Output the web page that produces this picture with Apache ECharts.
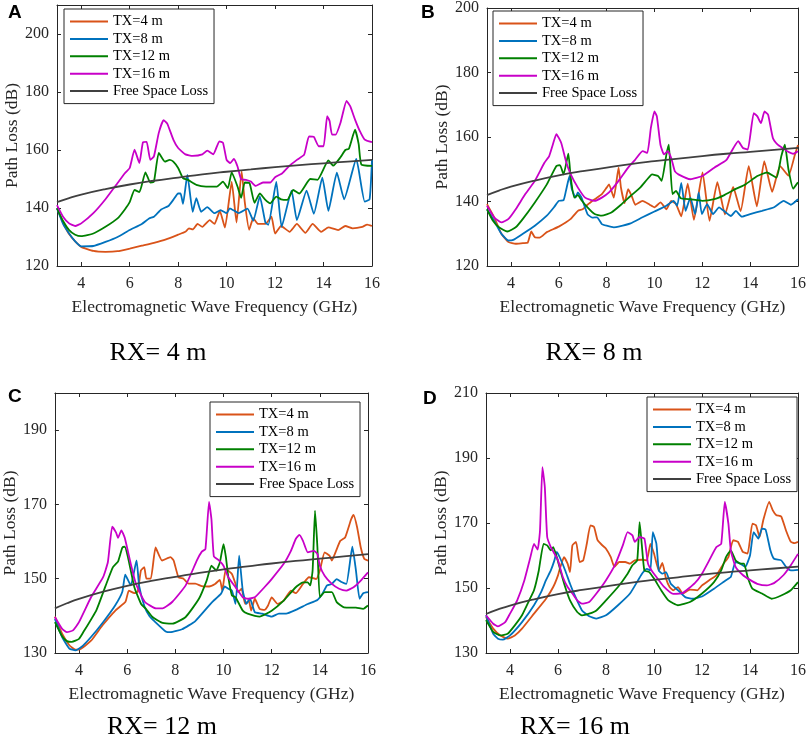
<!DOCTYPE html>
<html><head><meta charset="utf-8">
<script src="https://cdn.jsdelivr.net/npm/echarts@6/dist/echarts.min.js"></script>
<style>html,body{margin:0;padding:0;background:#fff}#c{width:809px;height:747px}</style>
</head><body><div id="c"></div>
<script>
// ---------- labels ----------
const seriesNames = ['TX=4 m','TX=8 m','TX=12 m','TX=16 m','Free Space Loss'];
const panelLetters = ['A','B','C','D'];
const rxLabels = ['RX= 4 m','RX= 8 m','RX= 12 m','RX= 16 m'];
const xTitle = 'Electromagnetic Wave Frequency (GHz)';
const yTitle = 'Path Loss (dB)';
const xTicks = [4,6,8,10,12,14,16];
const yTicksA = [120,140,160,180,200];
const yTicksB = [120,140,160,180,200];
const yTicksC = [130,150,170,190];
const yTicksD = [130,150,170,190,210];

// ---------- data: [frequency GHz, path loss dB] ----------
const freeSpace = [[3,142],[3.5,143.4],[4,144.6],[5,146.5],[6,148.1],[7,149.4],[8,150.5],[9,151.6],[10,152.5],[11,153.3],[12,154.1],[13,154.8],[14,155.4],[15,156],[16,156.6]];

// Panel A (RX = 4 m)
const a4 = [[3,140],[3.25,135],[3.5,131],[3.75,128.5],[4,126.6],[4.5,125.2],[5,124.9],[5.5,125.1],[6,126],[6.5,127],[7,128],[7.5,129.2],[8,130.8],[8.3,131.8],[8.45,133],[8.6,132.6],[8.8,134.5],[9,133.5],[9.3,135.8],[9.5,134.5],[9.72,139],[9.93,133.2],[10.21,149],[10.41,135],[10.62,152.6],[10.75,142],[10.93,132.5],[11.1,136.5],[11.3,134.5],[11.6,134.5],[11.85,137],[12,131.2],[12.25,133.8],[12.6,131.8],[12.9,134.5],[13.25,131.4],[13.55,134.5],[13.9,131.8],[14.2,133.3],[14.6,132.4],[14.9,133.8],[15.2,133],[15.6,133.5],[15.8,134.3],[16,133.8]];
const a8 = [[3,139.9],[3.25,134.5],[3.5,131.2],[3.75,128.5],[4,126.8],[4.5,126.9],[5,128.3],[5.5,130],[6,132.4],[6.5,134.5],[6.8,136.4],[7,137],[7.3,139.5],[7.6,140.7],[7.8,142.8],[8,145],[8.1,145],[8.2,141.4],[8.38,151.4],[8.6,138.7],[8.75,143.4],[8.95,138.7],[9.2,140.3],[9.5,138.2],[9.75,139.3],[10,138.2],[10.13,139.9],[10.5,138.2],[10.86,139.8],[11.1,135.6],[11.37,144],[11.6,135],[11.72,134.2],[12.05,149],[12.27,133.5],[12.68,146],[12.9,135.8],[13.3,146],[13.6,138],[13.95,150.5],[14.2,139],[14.55,152.2],[14.85,143],[15.35,156.9],[15.7,142.2],[15.9,143],[16,156.6]];
const a12 = [[3,139.9],[3.25,135.5],[3.5,132.4],[3.75,130.8],[4,130.3],[4.5,131.2],[5,133.5],[5.5,136.4],[5.8,139.5],[6,142],[6.2,146.2],[6.4,145.5],[6.65,152.3],[6.85,148.8],[7,149.1],[7.2,159],[7.45,156],[7.65,156.6],[7.8,156],[8,153.8],[8.2,150.3],[8.4,149.7],[8.75,148],[9.15,147.4],[9.6,147.4],[9.85,149.1],[10.05,146.8],[10.21,152.3],[10.45,147.4],[10.6,143.5],[10.75,148.8],[10.95,148.5],[11.15,141.8],[11.37,145],[11.58,143],[11.8,141.6],[12.05,143.9],[12.25,143],[12.5,142.8],[12.75,146.2],[13,145],[13.45,150],[13.75,149.7],[14.2,156.4],[14.4,154.6],[14.7,157.5],[14.9,160],[15.05,160.5],[15.3,167],[15.45,162],[15.56,155],[16,154.5]];
const a16 = [[3,141],[3.25,137],[3.5,134.7],[3.75,133.8],[4,134.7],[4.5,138.2],[5,143],[5.5,148.6],[5.8,152],[6,153.8],[6.2,160.1],[6.4,155.5],[6.55,162.7],[6.7,162.8],[6.85,156.6],[7,157.8],[7.2,165.9],[7.4,170.3],[7.55,169.1],[7.8,163.6],[8,160.7],[8.3,158.5],[8.6,158],[9,158.5],[9.2,159.8],[9.45,158.5],[9.7,163],[9.85,162.5],[10,156.6],[10.15,155.5],[10.3,156.9],[10.45,154.3],[10.6,149.9],[10.8,149.7],[11,149.1],[11.2,147.6],[11.5,148.8],[11.8,148.8],[12,150.6],[12.3,152],[12.6,154.6],[12.9,156.6],[13.2,158.4],[13.4,164.7],[13.6,164.5],[13.8,161.3],[14,161.3],[14.15,171.7],[14.25,170],[14.35,165.3],[14.5,165.3],[14.7,169.4],[14.95,176.9],[15.1,175.1],[15.3,170.5],[15.5,166.5],[15.7,163.6],[16,162.7]];

// Panel B (RX = 8 m)
const b4 = [[3,139.2],[3.3,135.1],[3.6,130],[3.9,127.4],[4.2,126.9],[4.5,127.1],[4.7,127.2],[4.85,130.7],[5,128.9],[5.2,128.8],[5.5,130.5],[6,132.2],[6.5,134.6],[6.8,137.1],[7,137.6],[7.2,139],[7.5,140.7],[7.8,142.3],[8,144.3],[8.1,145.3],[8.3,141.2],[8.5,150.5],[8.6,144.3],[8.75,139.5],[8.9,143.8],[9.05,141.7],[9.2,139],[9.5,140.2],[9.8,139],[10,138.2],[10.25,139.7],[10.5,137.6],[10.7,140.2],[10.9,139.2],[11.12,135.4],[11.39,145.5],[11.65,134.3],[12.01,149],[12.3,134],[12.63,146],[12.95,136],[13.29,144.5],[13.6,137],[13.94,151],[14.28,138.5],[14.59,152.5],[14.92,143],[15.25,151],[15.6,148],[15.87,154.5],[16,157.5]];
const b8 = [[3,137.6],[3.3,134],[3.6,130],[3.9,127.9],[4.1,128.1],[4.5,130],[5,132.5],[5.5,135.6],[5.8,138.2],[6,140.2],[6.2,140.4],[6.3,143.3],[6.45,147.9],[6.55,143.8],[6.7,141.2],[6.8,142.8],[6.95,141.2],[7.2,136.1],[7.4,135],[7.6,135.1],[7.8,133],[8,132.5],[8.3,132],[8.5,132.2],[9,133.2],[9.5,135.1],[10,136.9],[10.5,138.7],[10.8,140.2],[10.95,138.7],[11.12,145.8],[11.3,137.1],[11.5,141.2],[11.7,136.1],[11.85,142.8],[11.98,136.1],[12.2,139.2],[12.45,136.1],[12.7,138.2],[12.9,137.1],[13.2,135.5],[13.4,137.1],[13.65,135.3],[14,136.1],[14.5,137.1],[15,138.2],[15.4,140.2],[15.7,139],[16,140.7]];
const b12 = [[3,137.6],[3.25,134],[3.5,132],[3.85,130.7],[4.2,132],[4.5,134.6],[5,139.7],[5.5,145.3],[5.9,151],[6.05,151.3],[6.2,148.4],[6.4,154.8],[6.5,147.4],[6.65,141.2],[6.8,142],[6.95,140.4],[7.2,138.2],[7.5,136.1],[7.8,135.6],[8.2,136.6],[8.6,139],[9,141.7],[9.4,144.3],[9.7,146.9],[9.9,148.4],[10.15,147.9],[10.3,146.4],[10.5,154.6],[10.6,157.6],[10.75,142.3],[10.9,143.3],[11.1,141],[11.5,140.7],[12,140.2],[12.5,140.7],[12.9,141.9],[13.4,143.9],[13.8,145.3],[14.3,147.9],[14.7,149],[15.1,147.4],[15.3,154],[15.45,157.6],[15.6,150],[15.8,144],[16,146]];
const b16 = [[3,138.7],[3.3,135.1],[3.6,133.5],[3.9,134.6],[4.2,137.6],[4.6,142.3],[5,146.4],[5.4,152],[5.6,154.1],[5.75,157.6],[5.9,160.9],[6.1,158.2],[6.3,152.5],[6.5,148.4],[6.8,144.3],[7.1,141.2],[7.5,140.2],[7.8,141.2],[8.1,142.8],[8.5,146.4],[8.9,150.5],[9.2,153],[9.5,155.6],[9.7,155.1],[9.85,162.8],[10,167.9],[10.1,166.4],[10.25,157.6],[10.4,154.6],[10.55,155.6],[10.7,153.5],[10.85,149.4],[11,148.4],[11.5,146.9],[12,147.9],[12.5,150.5],[13,152.8],[13.3,156.6],[13.5,158.7],[13.7,156.6],[13.9,156.1],[14.15,167.4],[14.3,166.4],[14.45,164.3],[14.6,167.9],[14.75,166.9],[14.95,159.7],[15.15,157.6],[15.35,156.6],[15.55,155.6],[15.8,154.8],[16,155.6]];

// Panel C (RX = 12 m)
const c4 = [[3,139.8],[3.3,135.2],[3.6,132.1],[3.85,130.9],[4,130.9],[4.5,133.3],[4.97,137.4],[5.52,141.5],[5.93,143.8],[6.07,146.8],[6.3,146.1],[6.44,146.5],[6.57,152.2],[6.71,153.1],[6.8,150],[6.98,150],[7.18,158.4],[7.45,154.9],[7.8,155.8],[7.93,154.9],[8.13,150.4],[8.34,150],[8.55,148.7],[8.83,148.7],[9.1,148],[9.4,147.9],[9.65,148.6],[9.85,149.7],[9.95,146.8],[10.1,152.6],[10.35,151.3],[10.5,148.6],[10.6,146.4],[10.75,147.3],[10.9,143.2],[11.05,144.1],[11.15,141.4],[11.3,144.6],[11.5,141.9],[11.7,141.6],[11.85,142.8],[12,145],[12.25,143.2],[12.5,144.1],[12.8,146.8],[13,146.1],[13.3,148.6],[13.55,150.4],[13.85,149.9],[14,152.2],[14.2,157.1],[14.4,156.2],[14.5,154.9],[14.65,157.1],[14.85,160.2],[15.05,161.1],[15.3,166],[15.4,167.2],[15.55,163.8],[15.7,158.4],[15.85,155.3],[16,154.9]];
const c8 = [[3,139.2],[3.3,134.3],[3.6,131.2],[3.85,130.7],[4.1,131.6],[4.5,134.3],[5,138.3],[5.5,142.8],[5.8,146.5],[5.92,151.1],[6.15,148.2],[6.39,154.9],[6.5,148],[6.73,142.3],[6.93,139.9],[7.14,138.5],[7.6,135.8],[7.8,135.6],[8.28,136.4],[8.83,138.6],[9.5,143.5],[9.9,146],[10.05,147.9],[10.2,147.3],[10.35,146.8],[10.5,143.2],[10.65,156.2],[10.8,146.8],[10.95,143.2],[11.1,144.6],[11.3,141],[11.6,140.6],[12,139.8],[12.3,140.6],[12.6,140.6],[13,141.6],[13.5,143.2],[13.9,144.3],[14.1,145.9],[14.3,148.2],[14.5,148.6],[14.7,149.9],[14.9,149.1],[15.1,148.6],[15.35,158.6],[15.5,152.2],[15.65,144.6],[15.8,146.1],[16,146.4]];
const c12 = [[3,138.3],[3.3,134.5],[3.5,133.2],[3.7,133],[4,133.8],[4.17,135.5],[4.72,141.5],[5.1,148],[5.41,153.1],[5.62,154.6],[5.8,158.4],[5.9,158.6],[6.03,155.9],[6.3,147.7],[6.58,143.2],[6.78,141.9],[7.05,139.7],[7.47,138.1],[7.88,137.9],[8.43,139.7],[8.98,144.6],[9.3,149.5],[9.5,153.5],[9.7,152.2],[9.85,154.4],[10,159.3],[10.1,155.8],[10.2,150.4],[10.35,145.5],[10.5,145],[10.8,141.4],[11,140.6],[11.5,139.8],[12,141.4],[12.5,144.1],[13,147.7],[13.3,149],[13.5,149],[13.6,148.2],[13.7,152.2],[13.8,168.3],[13.9,158.4],[14,145],[14.2,146.4],[14.5,146.4],[14.7,143.7],[15,142.3],[15.5,142.2],[15.8,141.9],[16,142.8]];
const c16 = [[3,139.7],[3.3,136.5],[3.5,135.6],[3.75,136.1],[4,138.3],[4.5,145],[5,150.4],[5.2,154.5],[5.38,164],[5.54,162.4],[5.62,161],[5.76,163],[5.9,161],[6.15,154],[6.36,148.7],[6.73,143.8],[7.2,142],[7.47,142],[7.88,143.8],[8.43,148.2],[8.9,155],[9.1,157.3],[9.25,158],[9.4,170.7],[9.5,166],[9.6,156],[9.8,155],[10,153.5],[10.2,150.4],[10.5,147.7],[10.8,145],[11,144.6],[11.3,145],[11.7,147.7],[12,149.9],[12.5,154],[12.8,157.5],[13,160.7],[13.15,161.8],[13.3,160.2],[13.5,157.1],[13.75,157.5],[13.9,156.7],[14,153.5],[14.2,150.8],[14.5,148.6],[14.8,147.3],[15.1,146.8],[15.4,147.7],[15.7,149.5],[16,151.7]];

// Panel D (RX = 16 m)
const d4 = [[3,141.1],[3.3,137.5],[3.6,135.4],[3.9,134.4],[4.2,135.4],[4.5,137.5],[5,142.1],[5.5,146.7],[5.8,150.3],[6,153.9],[6.1,156.5],[6.25,159.5],[6.4,157.5],[6.5,154.9],[6.6,163.1],[6.75,164.2],[6.9,158],[7.05,158.5],[7.2,163.6],[7.35,169.3],[7.5,168.8],[7.65,164.7],[7.85,163.1],[8,162.1],[8.2,159.5],[8.35,156.5],[8.55,158],[8.8,158],[9,157.5],[9.2,158.5],[9.5,158.7],[9.7,158.5],[9.85,163.6],[10,160.6],[10.2,155.4],[10.35,157.7],[10.5,152.9],[10.65,150.3],[10.8,149.3],[11,150.3],[11.2,148.3],[11.5,149.5],[11.8,149.3],[12,150.8],[12.3,152.4],[12.6,153.9],[12.9,157.5],[13.1,159.5],[13.3,164.7],[13.5,164.2],[13.7,161.1],[13.9,160.6],[14.1,169.8],[14.25,169.3],[14.4,165.7],[14.55,170.8],[14.8,176.5],[14.95,173.9],[15.1,172.4],[15.3,172],[15.5,167.7],[15.7,164.2],[15.85,163.8],[16,164.2]];
const d8 = [[3,141.6],[3.3,135.9],[3.5,134.4],[3.7,134.1],[4,135.4],[4.5,139.5],[5,144.7],[5.3,148.8],[5.5,152.4],[5.7,155.4],[5.85,158.5],[5.95,161.1],[6.1,159],[6.3,155.4],[6.5,151.3],[6.7,147.7],[7,143.1],[7.3,141.3],[7.6,140.6],[8,141.6],[8.5,144.7],[9,148.3],[9.5,154.4],[9.7,155.9],[9.85,155.4],[9.95,167.2],[10.1,163.6],[10.2,155.4],[10.35,154.4],[10.5,154.9],[10.7,151.3],[11,149.3],[11.3,147.2],[11.6,146.7],[12,147.4],[12.5,149.8],[13,152.4],[13.2,153.4],[13.4,158],[13.6,157.5],[13.8,156.5],[14,160],[14.15,167.2],[14.35,165.2],[14.5,168.3],[14.65,168],[14.85,161.6],[15,159],[15.3,158.5],[15.5,156.5],[15.7,155.4],[16,155.6]];
const d12 = [[3,140.1],[3.3,136.5],[3.6,135.4],[3.9,135.9],[4.2,138.5],[4.5,141.6],[4.8,146.2],[5,149.3],[5.2,155.4],[5.4,163.6],[5.55,163.1],[5.7,161.6],[5.8,162.6],[5.95,159.5],[6.1,155.4],[6.3,150.3],[6.5,146.2],[6.8,142.6],[7,141.6],[7.3,142.1],[7.6,143.1],[8,146.2],[8.5,150.3],[8.9,154.4],[9.1,157],[9.3,158.5],[9.4,170.3],[9.5,162.6],[9.6,155.4],[9.8,154.9],[10,152.9],[10.3,149.3],[10.6,146.2],[11,144.7],[11.5,145.7],[12,148.3],[12.5,151.8],[12.8,155.4],[13,159.5],[13.2,161.6],[13.4,158.5],[13.6,157.5],[13.75,157.5],[13.9,153.4],[14.1,149.8],[14.5,148.3],[14.9,146.7],[15.3,147.7],[15.7,149.3],[16,151.8]];
const d16 = [[3,141.6],[3.3,139],[3.5,138.2],[3.8,139.5],[4,142.1],[4.3,146.2],[4.6,152.4],[4.85,159.5],[5,163.6],[5.15,161.8],[5.25,167.7],[5.35,187.2],[5.45,181.1],[5.55,165.7],[5.7,162.6],[5.85,160.6],[6,158.5],[6.2,153.4],[6.4,150.3],[6.6,148.3],[6.8,146.2],[7,145.2],[7.3,145.7],[7.6,148.3],[8,152.4],[8.4,157.5],[8.7,163.1],[8.9,167.2],[9.1,166.2],[9.2,164.2],[9.4,165.7],[9.6,165.2],[9.75,157.5],[9.9,155.4],[10.1,153.4],[10.4,150.5],[10.8,148.2],[11.2,148.5],[11.7,151.5],[12,154.4],[12.3,158.5],[12.6,162.6],[12.8,163.6],[12.95,176.5],[13.1,169.8],[13.2,161.6],[13.4,156.5],[13.7,154],[14,152.5],[14.3,151.3],[14.7,150.8],[15,151.5],[15.4,154],[15.7,157],[16,160.5]];

// ---------- layout & style ----------
const colors = ['#D95319','#0072BD','#008000','#C800C8','#404040'];
const SERIF = '"Liberation Serif","Times New Roman",serif';
const AX = '#262626';
const panels = [
  {grid:{left:57,top:5,width:315,height:261}, yMin:120, yMax:210, yTicks:yTicksA, data:[a4,a8,a12,a16,freeSpace], legend:{left:64,top:9}, yGap:33, letter:[8,3], rx:[158,353]},
  {grid:{left:487,top:5,width:315,height:261}, yMin:120, yMax:200, yTicks:yTicksB, data:[b4,b8,b12,b16,freeSpace], legend:{left:493,top:11}, yGap:36, letter:[421,3], rx:[594,353]},
  {grid:{left:52,top:393,width:316,height:260}, yMin:130, yMax:200, yTicks:yTicksC, data:[c4,c8,c12,c16,freeSpace], legend:{left:210,top:402}, yGap:33, letter:[8,387], rx:[162,727]},
  {grid:{left:486,top:393,width:316,height:260}, yMin:130, yMax:210, yTicks:yTicksD, data:[d4,d8,d12,d16,freeSpace], legend:{left:647,top:397}, yGap:34, letter:[423,389], rx:[575,727]}
];

const grid=[], xAxis=[], yAxis=[], series=[], legend=[], graphic=[];
panels.forEach((p,i)=>{
  grid.push(Object.assign({containLabel:false}, p.grid));
  xAxis.push({type:'value', gridIndex:i, min:3, max:16, position:'bottom',
    axisLine:{show:true, onZero:false, lineStyle:{color:AX,width:1}},
    axisTick:{show:true, inside:true, length:4, customValues:xTicks, lineStyle:{color:AX}},
    axisLabel:{customValues:xTicks, fontFamily:SERIF, fontSize:16, color:AX, margin:10},
    splitLine:{show:false},
    name:xTitle, nameLocation:'middle', nameGap:32,
    nameTextStyle:{fontFamily:SERIF, fontSize:17.5, color:AX}});
  yAxis.push({type:'value', gridIndex:i, min:p.yMin, max:p.yMax, position:'left',
    axisLine:{show:true, onZero:false, lineStyle:{color:AX,width:1}},
    axisTick:{show:true, inside:true, length:4, customValues:p.yTicks, lineStyle:{color:AX}},
    axisLabel:{customValues:p.yTicks, fontFamily:SERIF, fontSize:16, color:AX, margin:8},
    splitLine:{show:false},
    name:yTitle, nameLocation:'middle', nameGap:p.yGap,
    nameTextStyle:{fontFamily:SERIF, fontSize:17.5, color:AX}});
  legend.push({show:true, orient:'vertical', left:p.legend.left, top:p.legend.top,
    data:seriesNames, icon:'rect', backgroundColor:'#fff', borderColor:AX, borderWidth:1,
    padding:[5,6,5,6], itemGap:2.4, itemWidth:38, itemHeight:2, selectedMode:false,
    textStyle:{fontFamily:SERIF, fontSize:14.5, color:'#000'}});
  graphic.push({type:'text', x:p.letter[0], y:p.letter[1], style:{text:panelLetters[i], font:'bold 19px "Liberation Sans", Arial, sans-serif', fill:'#000'}});
  graphic.push({type:'text', x:p.rx[0], y:p.rx[1], style:{text:rxLabels[i], font:'26px '+SERIF, fill:'#000', textAlign:'center', textVerticalAlign:'middle'}});
});
// mirrored box axes (top & right ticks)
panels.forEach((p,i)=>{
  xAxis.push({type:'value', gridIndex:i, min:3, max:16, position:'top',
    axisLine:{show:true, onZero:false, lineStyle:{color:AX,width:1}},
    axisTick:{show:true, inside:true, length:4, customValues:xTicks, lineStyle:{color:AX}},
    axisLabel:{show:false}, splitLine:{show:false}});
  yAxis.push({type:'value', gridIndex:i, min:p.yMin, max:p.yMax, position:'right',
    axisLine:{show:true, onZero:false, lineStyle:{color:AX,width:1}},
    axisTick:{show:true, inside:true, length:4, customValues:p.yTicks, lineStyle:{color:AX}},
    axisLabel:{show:false}, splitLine:{show:false}});
});
panels.forEach((p,i)=>{
  p.data.forEach((d,j)=>{
    series.push({type:'line', name:seriesNames[j], xAxisIndex:i, yAxisIndex:i, data:d,
      symbol:'none', smooth: j===4 ? true : 0.15, clip:true,
      lineStyle:{width:1.8, color:colors[j]}, itemStyle:{color:colors[j]}, z:2+j});
  });
});

const chart = echarts.init(document.getElementById('c'), null, {renderer:'canvas'});
chart.setOption({animation:false, backgroundColor:'#fff', grid, xAxis, yAxis, legend, series, graphic});
</script>
</body></html>
